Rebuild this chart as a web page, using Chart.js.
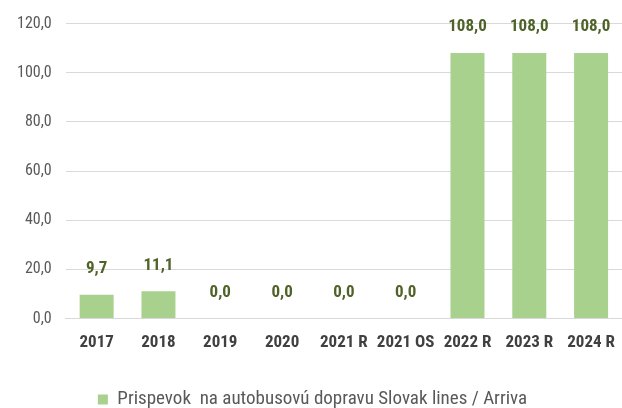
<!DOCTYPE html>
<html>
<head>
<meta charset="utf-8">
<script src="https://cdn.jsdelivr.net/npm/chart.js@4"></script>
<style>
  html, body { margin: 0; padding: 0; background: #fff; }
  #wrap { width: 622px; height: 408px; }
</style>
</head>
<body>
<div id="wrap"><canvas id="chart"></canvas></div>
<script>
// DATA
let labels = ["2017", "2018", "2019", "2020", "2021 R", "2021 OS", "2022 R", "2023 R", "2024 R"];
let values = [9.7, 11.1, 0, 0, 0, 0, 108, 108, 108];
let seriesName = "Prispevok  na autobusovú dopravu Slovak lines / Arriva";

let fontFamily = "'Roboto Condensed', 'DejaVu Sans Condensed', sans-serif";

function fmt(v) {
    return v.toFixed(1).replace(".", ",");
}

// value labels above bars
let valueLabels = {
    id: "valueLabels",
    afterDatasetsDraw(chart) {
        let ctx = chart.ctx;
        let meta = chart.getDatasetMeta(0);
        ctx.save();
        ctx.font = "bold 17px " + fontFamily;
        ctx.fillStyle = "#4F6228";
        ctx.textAlign = "center";
        ctx.textBaseline = "middle";
        meta.data.forEach(function (bar, i) {
            ctx.fillText(fmt(values[i]), bar.x, bar.y - 26);
        });
        ctx.restore();
    }
};

let ctx1 = document.getElementById("chart");

new Chart(ctx1, {
    type: "bar",
    data: {
        labels: labels,
        datasets: [{
            label: seriesName,
            data: values,
            backgroundColor: "#A9D18E",
            categoryPercentage: 1,
            barPercentage: 0.55
        }]
    },
    options: {
        responsive: true,
        maintainAspectRatio: false,
        animation: false,
        layout: { padding: { top: -4, right: 0, left: 3, bottom: -11 } },
        plugins: {
            legend: {
                position: "bottom",
                labels: {
                    boxWidth: 10,
                    boxHeight: 10,
                    padding: 27,
                    color: "#595959",
                    font: { family: fontFamily, size: 19 }
                }
            },
            tooltip: { enabled: false }
        },
        scales: {
            x: {
                grid: { display: false },
                border: { color: "#D9D9D9" },
                afterFit: function (scale) { scale.height += 4; },
                ticks: {
                    color: "#404040",
                    padding: 6,
                    maxRotation: 0,
                    autoSkip: false,
                    font: { family: fontFamily, size: 17, weight: "bold" }
                }
            },
            y: {
                min: 0,
                max: 120,
                ticks: {
                    stepSize: 20,
                    color: "#595959",
                    padding: 14,
                    font: { family: fontFamily, size: 16 },
                    callback: function (v) { return fmt(v); }
                },
                grid: { color: "#D9D9D9", drawTicks: false },
                border: { display: false }
            }
        }
    },
    plugins: [valueLabels]
});
</script>
</body>
</html>
